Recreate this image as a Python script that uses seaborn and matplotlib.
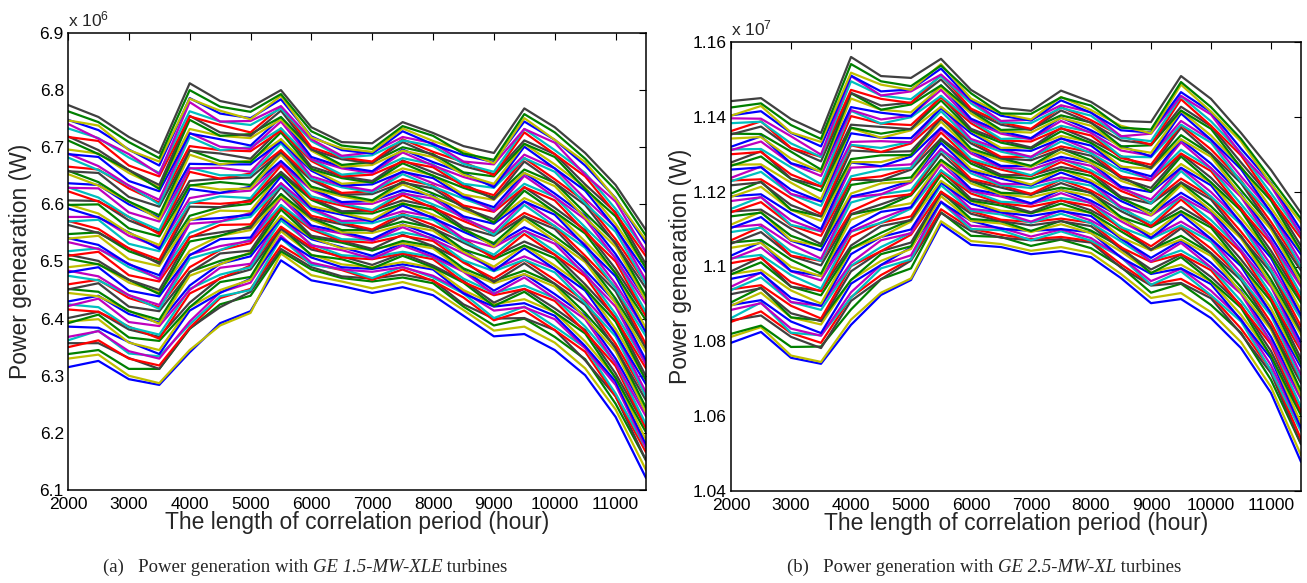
import matplotlib
matplotlib.use("Agg")
import matplotlib.pyplot as plt
import numpy as np
import pandas as pd
import seaborn as sns

# ---------------- data ----------------
hours = [2000, 2500, 3000, 3500, 4000, 4500, 5000, 5500, 6000, 6500,
         7000, 7500, 8000, 8500, 9000, 9500, 10000, 10500, 11000, 11500]

# (a) GE 1.5-MW-XLE, power in units of 1e3 W (axis shows x 10^6)
xle_15 = [
    [6315, 6326, 6294, 6284, 6341, 6392, 6413, 6502, 6467, 6457, 6445, 6455, 6441, 6405, 6369, 6373, 6345, 6301, 6228, 6121],
    [6330, 6337, 6300, 6287, 6345, 6388, 6410, 6514, 6476, 6465, 6453, 6464, 6450, 6415, 6379, 6386, 6358, 6313, 6241, 6135],
    [6338, 6345, 6312, 6312, 6382, 6425, 6440, 6518, 6486, 6471, 6465, 6472, 6462, 6421, 6388, 6400, 6368, 6329, 6251, 6152],
    [6350, 6362, 6330, 6318, 6384, 6436, 6452, 6528, 6496, 6485, 6468, 6486, 6466, 6437, 6397, 6414, 6380, 6342, 6264, 6166],
    [6368, 6378, 6343, 6330, 6395, 6446, 6463, 6545, 6498, 6486, 6482, 6490, 6475, 6447, 6414, 6420, 6399, 6348, 6284, 6174],
    [6395, 6399, 6358, 6345, 6420, 6450, 6468, 6553, 6512, 6495, 6490, 6499, 6489, 6450, 6425, 6434, 6411, 6360, 6297, 6188],
    [6401, 6412, 6381, 6368, 6428, 6471, 6486, 6557, 6521, 6509, 6494, 6514, 6493, 6466, 6428, 6452, 6418, 6380, 6304, 6209],
    [6425, 6420, 6385, 6372, 6452, 6477, 6490, 6572, 6530, 6511, 6508, 6517, 6508, 6470, 6445, 6458, 6436, 6386, 6323, 6215],
    [6430, 6440, 6408, 6393, 6458, 6496, 6509, 6576, 6539, 6525, 6510, 6532, 6512, 6485, 6449, 6478, 6443, 6405, 6330, 6237],
    [6452, 6447, 6413, 6398, 6482, 6501, 6514, 6591, 6542, 6533, 6519, 6536, 6527, 6488, 6466, 6484, 6461, 6410, 6350, 6244],
    [6460, 6468, 6436, 6420, 6490, 6520, 6532, 6595, 6556, 6536, 6533, 6545, 6536, 6498, 6470, 6503, 6468, 6430, 6356, 6265],
    [6484, 6474, 6441, 6424, 6512, 6527, 6536, 6611, 6559, 6549, 6536, 6560, 6539, 6514, 6487, 6509, 6487, 6435, 6376, 6271],
    [6490, 6496, 6463, 6446, 6519, 6545, 6555, 6614, 6573, 6551, 6550, 6564, 6554, 6517, 6491, 6528, 6493, 6455, 6382, 6293],
    [6512, 6501, 6468, 6450, 6543, 6551, 6559, 6630, 6576, 6565, 6553, 6579, 6558, 6533, 6508, 6535, 6512, 6460, 6402, 6299],
    [6518, 6523, 6490, 6471, 6550, 6570, 6578, 6633, 6590, 6568, 6567, 6582, 6573, 6536, 6512, 6554, 6518, 6480, 6408, 6321],
    [6541, 6529, 6495, 6476, 6573, 6576, 6582, 6649, 6593, 6582, 6570, 6598, 6576, 6552, 6529, 6560, 6537, 6485, 6429, 6327],
    [6548, 6551, 6518, 6499, 6580, 6595, 6601, 6653, 6608, 6585, 6584, 6601, 6591, 6556, 6532, 6579, 6544, 6505, 6435, 6349],
    [6571, 6557, 6523, 6503, 6603, 6601, 6605, 6668, 6610, 6598, 6587, 6616, 6594, 6571, 6549, 6585, 6562, 6510, 6455, 6355],
    [6578, 6578, 6545, 6525, 6611, 6620, 6624, 6672, 6625, 6601, 6601, 6619, 6610, 6575, 6553, 6605, 6569, 6530, 6461, 6377],
    [6600, 6584, 6550, 6529, 6634, 6626, 6628, 6687, 6627, 6614, 6604, 6635, 6613, 6590, 6570, 6611, 6587, 6535, 6481, 6383],
    [6607, 6606, 6572, 6551, 6641, 6645, 6647, 6691, 6642, 6617, 6618, 6638, 6628, 6594, 6574, 6630, 6594, 6555, 6487, 6405],
    [6630, 6612, 6578, 6555, 6664, 6651, 6651, 6707, 6645, 6630, 6621, 6653, 6631, 6610, 6591, 6636, 6613, 6560, 6507, 6411],
    [6637, 6634, 6600, 6577, 6671, 6670, 6670, 6710, 6659, 6633, 6635, 6657, 6646, 6613, 6595, 6655, 6619, 6580, 6513, 6433],
    [6659, 6639, 6605, 6581, 6695, 6676, 6674, 6726, 6662, 6646, 6638, 6672, 6650, 6629, 6612, 6661, 6638, 6585, 6533, 6439],
    [6666, 6661, 6628, 6603, 6702, 6695, 6693, 6729, 6676, 6649, 6652, 6675, 6665, 6632, 6616, 6681, 6644, 6605, 6539, 6461],
    [6689, 6667, 6633, 6608, 6725, 6701, 6697, 6745, 6679, 6663, 6655, 6691, 6668, 6648, 6633, 6687, 6663, 6610, 6560, 6467],
    [6696, 6689, 6655, 6630, 6732, 6720, 6716, 6749, 6694, 6666, 6669, 6694, 6683, 6652, 6636, 6706, 6670, 6630, 6566, 6489],
    [6719, 6695, 6660, 6634, 6755, 6726, 6720, 6764, 6696, 6679, 6672, 6709, 6686, 6667, 6653, 6712, 6688, 6635, 6586, 6495],
    [6733, 6716, 6682, 6655, 6763, 6745, 6739, 6768, 6711, 6682, 6686, 6712, 6702, 6671, 6657, 6732, 6695, 6655, 6592, 6517],
    [6748, 6730, 6696, 6668, 6786, 6759, 6751, 6784, 6719, 6695, 6689, 6728, 6705, 6686, 6674, 6745, 6713, 6668, 6611, 6531],
    [6763, 6744, 6709, 6681, 6800, 6771, 6762, 6793, 6728, 6703, 6697, 6737, 6720, 6689, 6678, 6758, 6726, 6680, 6625, 6545],
    [6774, 6753, 6718, 6690, 6812, 6781, 6770, 6800, 6735, 6709, 6707, 6744, 6725, 6702, 6690, 6768, 6735, 6690, 6634, 6555],
]
# further (a) curves lying between the ones above, same units
xle_15_more = [
    [6357, 6357, 6331, 6312, 6383, 6420, 6447, 6522, 6490, 6474, 6470, 6477, 6467, 6425, 6400, 6401, 6380, 6327, 6264, 6152],
    [6362, 6379, 6339, 6334, 6390, 6439, 6450, 6541, 6494, 6487, 6471, 6491, 6472, 6444, 6401, 6421, 6386, 6349, 6269, 6173],
    [6386, 6384, 6359, 6338, 6414, 6445, 6470, 6541, 6507, 6490, 6487, 6495, 6486, 6444, 6421, 6427, 6405, 6352, 6290, 6180],
    [6392, 6407, 6367, 6361, 6420, 6464, 6473, 6560, 6511, 6504, 6488, 6510, 6490, 6463, 6422, 6447, 6411, 6374, 6296, 6201],
    [6416, 6412, 6386, 6365, 6444, 6470, 6493, 6561, 6525, 6507, 6504, 6514, 6504, 6464, 6441, 6452, 6431, 6377, 6317, 6208],
    [6422, 6435, 6394, 6387, 6450, 6489, 6496, 6579, 6528, 6520, 6505, 6528, 6508, 6482, 6443, 6472, 6436, 6399, 6322, 6229],
    [6445, 6439, 6414, 6391, 6475, 6495, 6516, 6580, 6542, 6523, 6521, 6532, 6523, 6483, 6462, 6478, 6456, 6402, 6343, 6236],
    [6451, 6462, 6421, 6413, 6481, 6514, 6519, 6598, 6545, 6536, 6522, 6547, 6527, 6501, 6464, 6497, 6461, 6424, 6348, 6257],
    [6475, 6467, 6441, 6417, 6505, 6520, 6539, 6599, 6559, 6539, 6538, 6551, 6541, 6502, 6483, 6503, 6481, 6427, 6369, 6264],
    [6481, 6490, 6449, 6439, 6511, 6539, 6542, 6618, 6563, 6552, 6539, 6565, 6545, 6521, 6484, 6523, 6487, 6449, 6374, 6285],
    [6505, 6495, 6468, 6443, 6535, 6545, 6562, 6618, 6576, 6555, 6555, 6570, 6559, 6521, 6504, 6528, 6506, 6452, 6395, 6292],
    [6510, 6517, 6476, 6465, 6542, 6564, 6565, 6637, 6580, 6568, 6556, 6584, 6564, 6540, 6505, 6548, 6512, 6474, 6400, 6313],
    [6534, 6522, 6496, 6469, 6566, 6570, 6585, 6637, 6593, 6571, 6572, 6588, 6578, 6540, 6525, 6554, 6531, 6477, 6421, 6320],
    [6540, 6545, 6504, 6492, 6572, 6589, 6588, 6656, 6597, 6585, 6573, 6603, 6582, 6559, 6526, 6574, 6537, 6499, 6427, 6341],
    [6564, 6550, 6523, 6496, 6596, 6595, 6608, 6657, 6611, 6588, 6589, 6607, 6596, 6560, 6545, 6579, 6557, 6502, 6448, 6348],
    [6570, 6573, 6531, 6518, 6602, 6614, 6611, 6675, 6614, 6601, 6590, 6621, 6600, 6578, 6547, 6599, 6562, 6524, 6453, 6369],
    [6593, 6577, 6551, 6522, 6627, 6620, 6631, 6676, 6628, 6604, 6606, 6625, 6615, 6579, 6566, 6605, 6582, 6527, 6474, 6376],
    [6599, 6600, 6558, 6544, 6633, 6639, 6634, 6694, 6631, 6617, 6607, 6640, 6619, 6597, 6568, 6624, 6587, 6549, 6479, 6397],
    [6623, 6605, 6578, 6548, 6657, 6645, 6654, 6695, 6645, 6620, 6623, 6644, 6633, 6598, 6587, 6630, 6607, 6552, 6500, 6404],
    [6629, 6628, 6586, 6570, 6663, 6664, 6657, 6714, 6649, 6633, 6624, 6658, 6637, 6617, 6588, 6650, 6613, 6574, 6505, 6425],
    [6653, 6633, 6605, 6574, 6687, 6670, 6677, 6714, 6662, 6636, 6640, 6663, 6651, 6617, 6608, 6655, 6632, 6577, 6526, 6432],
    [6658, 6655, 6613, 6596, 6694, 6689, 6680, 6733, 6666, 6649, 6641, 6677, 6656, 6636, 6609, 6675, 6638, 6599, 6531, 6453],
    [6682, 6660, 6633, 6600, 6718, 6695, 6700, 6733, 6679, 6652, 6657, 6681, 6670, 6636, 6629, 6681, 6657, 6602, 6552, 6460],
    [6688, 6683, 6641, 6623, 6724, 6714, 6703, 6752, 6683, 6666, 6658, 6696, 6674, 6655, 6630, 6701, 6663, 6624, 6558, 6481],
    [6712, 6688, 6660, 6627, 6748, 6720, 6723, 6753, 6697, 6669, 6674, 6700, 6688, 6656, 6649, 6706, 6683, 6627, 6579, 6488],
    [6718, 6711, 6668, 6649, 6754, 6739, 6726, 6771, 6700, 6682, 6675, 6714, 6692, 6674, 6651, 6726, 6688, 6649, 6584, 6509],
    [6741, 6715, 6688, 6653, 6779, 6745, 6746, 6772, 6714, 6685, 6691, 6718, 6707, 6675, 6670, 6732, 6708, 6652, 6605, 6516],
    [6747, 6738, 6695, 6675, 6785, 6764, 6749, 6790, 6717, 6698, 6692, 6733, 6711, 6693, 6672, 6751, 6713, 6674, 6610, 6537],
]

# (b) GE 2.5-MW-XL, power in units of 1e4 W (axis shows x 10^7)
xl_25 = [
    [10796, 10825, 10756, 10740, 10844, 10924, 10964, 11114, 11058, 11052, 11033, 11041, 11025, 10969, 10902, 10913, 10862, 10782, 10662, 10478],
    [10812, 10838, 10762, 10745, 10858, 10930, 10968, 11121, 11068, 11060, 11042, 11052, 11036, 10980, 10916, 10929, 10878, 10798, 10678, 10496],
    [10820, 10842, 10785, 10786, 10885, 10966, 10995, 11145, 11082, 11079, 11055, 11072, 11049, 10999, 10930, 10954, 10897, 10823, 10697, 10525],
    [10852, 10880, 10822, 10796, 10918, 10977, 11020, 11153, 11101, 11085, 11073, 11079, 11068, 11006, 10952, 10967, 10922, 10834, 10723, 10539],
    [10884, 10902, 10834, 10815, 10931, 11004, 11030, 11174, 11109, 11103, 11080, 11099, 11076, 11026, 10961, 10994, 10935, 10860, 10736, 10568],
    [10895, 10930, 10864, 10845, 10964, 11015, 11047, 11188, 11122, 11115, 11092, 11113, 11089, 11040, 10984, 11005, 10960, 10871, 10762, 10582],
    [10926, 10942, 10875, 10854, 10987, 11041, 11064, 11196, 11141, 11121, 11110, 11121, 11108, 11047, 10992, 11032, 10972, 10897, 10774, 10611],
    [10937, 10971, 10905, 10884, 11002, 11052, 11090, 11217, 11149, 11139, 11117, 11141, 11116, 11067, 11015, 11043, 10997, 10908, 10800, 10625],
    [10967, 10983, 10916, 10895, 11033, 11079, 11099, 11224, 11168, 11145, 11135, 11148, 11135, 11074, 11023, 11070, 11010, 10934, 10812, 10654],
    [10979, 11011, 10946, 10923, 11048, 11090, 11125, 11245, 11176, 11163, 11142, 11168, 11143, 11094, 11046, 11082, 11035, 10945, 10839, 10668],
    [11009, 11023, 10958, 10934, 11079, 11117, 11134, 11253, 11195, 11169, 11160, 11176, 11162, 11101, 11054, 11109, 11048, 10971, 10850, 10697],
    [11020, 11051, 10987, 10963, 11094, 11128, 11159, 11273, 11202, 11187, 11166, 11196, 11169, 11121, 11078, 11120, 11073, 10982, 10877, 10711],
    [11050, 11063, 10999, 10974, 11125, 11155, 11169, 11281, 11222, 11193, 11185, 11204, 11189, 11128, 11085, 11147, 11086, 11008, 10888, 10740],
    [11061, 11092, 11028, 11003, 11140, 11166, 11194, 11302, 11229, 11211, 11191, 11223, 11196, 11148, 11109, 11159, 11111, 11019, 10916, 10754],
    [11092, 11104, 11040, 11015, 11171, 11193, 11204, 11310, 11249, 11217, 11210, 11231, 11216, 11155, 11116, 11186, 11124, 11045, 10927, 10783],
    [11103, 11132, 11069, 11043, 11187, 11204, 11229, 11330, 11256, 11235, 11216, 11251, 11223, 11175, 11140, 11197, 11149, 11056, 10954, 10797],
    [11134, 11144, 11082, 11054, 11218, 11230, 11238, 11338, 11275, 11241, 11234, 11259, 11242, 11182, 11148, 11224, 11161, 11082, 10965, 10826],
    [11145, 11172, 11110, 11082, 11233, 11241, 11264, 11358, 11283, 11259, 11241, 11279, 11250, 11202, 11171, 11235, 11186, 11093, 10992, 10840],
    [11175, 11185, 11123, 11094, 11264, 11268, 11273, 11367, 11302, 11265, 11259, 11286, 11269, 11209, 11179, 11263, 11199, 11119, 11004, 10869],
    [11186, 11213, 11151, 11122, 11279, 11279, 11299, 11387, 11310, 11283, 11266, 11306, 11277, 11229, 11202, 11274, 11224, 11130, 11031, 10883],
    [11217, 11225, 11164, 11134, 11310, 11306, 11308, 11395, 11329, 11289, 11284, 11314, 11296, 11236, 11210, 11301, 11237, 11156, 11042, 10912],
    [11228, 11253, 11193, 11162, 11325, 11317, 11333, 11415, 11336, 11307, 11290, 11334, 11303, 11256, 11234, 11312, 11262, 11167, 11069, 10926],
    [11259, 11265, 11205, 11174, 11356, 11344, 11343, 11423, 11356, 11313, 11309, 11342, 11323, 11263, 11241, 11339, 11275, 11193, 11080, 10955],
    [11269, 11294, 11234, 11202, 11371, 11355, 11368, 11444, 11363, 11331, 11315, 11361, 11330, 11283, 11265, 11351, 11300, 11204, 11108, 10969],
    [11300, 11306, 11246, 11214, 11402, 11382, 11378, 11452, 11383, 11337, 11334, 11369, 11350, 11290, 11272, 11378, 11313, 11230, 11119, 10998],
    [11311, 11334, 11275, 11242, 11418, 11393, 11403, 11472, 11390, 11355, 11340, 11389, 11357, 11310, 11296, 11389, 11338, 11241, 11146, 11012],
    [11342, 11346, 11288, 11253, 11449, 11419, 11412, 11480, 11409, 11361, 11358, 11397, 11376, 11317, 11304, 11416, 11350, 11267, 11157, 11041],
    [11353, 11374, 11316, 11281, 11464, 11430, 11438, 11500, 11417, 11379, 11365, 11417, 11384, 11337, 11327, 11427, 11375, 11278, 11184, 11055],
    [11383, 11387, 11329, 11293, 11495, 11457, 11447, 11509, 11436, 11385, 11383, 11424, 11403, 11344, 11335, 11455, 11388, 11304, 11196, 11084],
    [11404, 11415, 11357, 11321, 11510, 11468, 11473, 11529, 11444, 11403, 11390, 11444, 11411, 11364, 11358, 11466, 11413, 11315, 11223, 11097],
    [11425, 11436, 11378, 11341, 11541, 11495, 11482, 11537, 11463, 11409, 11408, 11452, 11430, 11371, 11366, 11493, 11426, 11341, 11234, 11127],
    [11442, 11450, 11394, 11357, 11560, 11509, 11504, 11555, 11472, 11424, 11416, 11470, 11440, 11389, 11386, 11509, 11448, 11357, 11258, 11143],
]
# further (b) curves lying between the ones above, same units
xl_25_more = [
    [10856, 10869, 10812, 10782, 10908, 10966, 11016, 11143, 11095, 11077, 11070, 11073, 11064, 10997, 10949, 10956, 10915, 10820, 10715, 10526],
    [10862, 10904, 10823, 10816, 10917, 10995, 11019, 11172, 11100, 11097, 11070, 11094, 11069, 11025, 10951, 10987, 10923, 10853, 10722, 10559],
    [10897, 10910, 10853, 10822, 10954, 11004, 11051, 11172, 11122, 11101, 11095, 11100, 11091, 11024, 10980, 10995, 10953, 10857, 10754, 10569],
    [10904, 10944, 10864, 10856, 10964, 11033, 11054, 11200, 11127, 11121, 11095, 11122, 11096, 11052, 10982, 11025, 10961, 10890, 10760, 10602],
    [10939, 10950, 10895, 10861, 11001, 11041, 11085, 11200, 11148, 11125, 11119, 11128, 11117, 11051, 11012, 11033, 10990, 10894, 10792, 10612],
    [10946, 10984, 10905, 10895, 11010, 11070, 11089, 11228, 11154, 11145, 11120, 11150, 11123, 11079, 11013, 11063, 10998, 10927, 10798, 10645],
    [10980, 10991, 10936, 10901, 11047, 11079, 11120, 11229, 11175, 11149, 11144, 11155, 11144, 11078, 11043, 11072, 11028, 10931, 10831, 10655],
    [10987, 11025, 10946, 10935, 11056, 11108, 11124, 11257, 11181, 11169, 11145, 11177, 11150, 11106, 11044, 11102, 11036, 10964, 10837, 10688],
    [11022, 11031, 10977, 10941, 11093, 11117, 11155, 11257, 11202, 11173, 11169, 11183, 11171, 11105, 11074, 11110, 11066, 10968, 10869, 10698],
    [11029, 11065, 10988, 10975, 11102, 11146, 11158, 11285, 11207, 11193, 11169, 11205, 11176, 11133, 11076, 11140, 11074, 11001, 10875, 10731],
    [11064, 11071, 11018, 10981, 11139, 11155, 11190, 11285, 11229, 11197, 11194, 11211, 11198, 11132, 11105, 11148, 11104, 11005, 10907, 10741],
    [11070, 11106, 11029, 11015, 11148, 11184, 11193, 11314, 11234, 11217, 11194, 11232, 11203, 11160, 11107, 11179, 11112, 11038, 10914, 10774],
    [11105, 11112, 11059, 11021, 11185, 11193, 11225, 11314, 11256, 11221, 11219, 11238, 11225, 11159, 11136, 11187, 11142, 11042, 10946, 10784],
    [11112, 11146, 11070, 11055, 11195, 11222, 11228, 11342, 11261, 11241, 11219, 11260, 11230, 11187, 11138, 11217, 11150, 11075, 10952, 10817],
    [11147, 11152, 11101, 11060, 11232, 11230, 11259, 11342, 11282, 11245, 11243, 11266, 11251, 11186, 11168, 11225, 11179, 11079, 10984, 10827],
    [11154, 11186, 11111, 11094, 11241, 11259, 11263, 11370, 11288, 11265, 11244, 11288, 11257, 11214, 11169, 11255, 11187, 11112, 10990, 10860],
    [11188, 11193, 11142, 11100, 11278, 11268, 11294, 11371, 11309, 11269, 11268, 11293, 11278, 11213, 11199, 11264, 11217, 11116, 11023, 10870],
    [11195, 11227, 11152, 11134, 11287, 11297, 11298, 11399, 11315, 11289, 11269, 11315, 11284, 11241, 11200, 11294, 11225, 11149, 11029, 10903],
    [11230, 11233, 11183, 11140, 11324, 11306, 11329, 11399, 11336, 11293, 11293, 11321, 11305, 11240, 11230, 11302, 11255, 11153, 11061, 10913],
    [11237, 11267, 11194, 11174, 11333, 11335, 11332, 11427, 11341, 11313, 11293, 11343, 11310, 11268, 11232, 11332, 11263, 11186, 11067, 10946],
    [11272, 11273, 11224, 11180, 11370, 11344, 11364, 11427, 11363, 11317, 11318, 11349, 11332, 11267, 11261, 11340, 11293, 11190, 11099, 10956],
    [11278, 11308, 11235, 11214, 11379, 11373, 11367, 11456, 11368, 11337, 11318, 11370, 11337, 11295, 11263, 11371, 11301, 11223, 11106, 10989],
    [11313, 11314, 11265, 11220, 11416, 11382, 11399, 11456, 11390, 11341, 11343, 11376, 11359, 11294, 11292, 11379, 11331, 11227, 11138, 10999],
    [11320, 11348, 11276, 11254, 11426, 11411, 11402, 11484, 11395, 11361, 11343, 11398, 11364, 11322, 11294, 11409, 11339, 11260, 11144, 11032],
    [11355, 11354, 11307, 11259, 11463, 11419, 11433, 11484, 11416, 11365, 11367, 11404, 11385, 11321, 11324, 11417, 11368, 11264, 11176, 11042],
    [11362, 11388, 11317, 11293, 11472, 11448, 11437, 11512, 11422, 11385, 11368, 11426, 11391, 11349, 11325, 11447, 11376, 11297, 11182, 11075],
    [11396, 11395, 11348, 11299, 11509, 11457, 11468, 11513, 11443, 11389, 11392, 11431, 11412, 11348, 11355, 11456, 11406, 11301, 11215, 11085],
    [11403, 11429, 11358, 11333, 11518, 11486, 11472, 11541, 11449, 11409, 11393, 11453, 11418, 11376, 11356, 11486, 11414, 11334, 11221, 11117],
]

x_ticks = [2000, 3000, 4000, 5000, 6000, 7000, 8000, 9000, 10000, 11000]
yticks_a = [6.1, 6.2, 6.3, 6.4, 6.5, 6.6, 6.7, 6.8, 6.9]
yticks_b = [1.04, 1.06, 1.08, 1.10, 1.12, 1.14, 1.16]
yticklabels_b = ["1.04", "1.06", "1.08", "1.1", "1.12", "1.14", "1.16"]

# MATLAB-like line colour order
matlab_colors = ["#0000ff", "#bfbf00", "#008000", "#404040",
                 "#ff0000", "#00bfbf", "#bf00bf"]

# ---------------- style ----------------
sns.set_theme(style="white")
plt.rcParams["font.family"] = ["Liberation Sans", "DejaVu Sans"]
plt.rcParams["mathtext.fontset"] = "custom"
plt.rcParams["mathtext.rm"] = "Liberation Sans"
plt.rcParams["mathtext.default"] = "regular"

fig = plt.figure(figsize=(13.07, 5.83), dpi=100)
ax_a = fig.add_axes([68 / 1307, 1 - 490 / 583, 578 / 1307, 457 / 583])
ax_b = fig.add_axes([731 / 1307, 1 - 491 / 583, 570 / 1307, 449 / 583])


def to_long(lines, scale):
    rows = []
    for i, vals in enumerate(lines):
        for h, v in zip(hours, vals):
            rows.append({"hour": h, "power": v / scale, "line": f"L{i:03d}"})
    return pd.DataFrame(rows)


def draw(ax, main_lines, extra_lines, scale, ylim, yticks, yticklabels,
         exp_text):
    # interleave the extra curves with the main ones for a mixed draw order
    lines = list(main_lines[:3])
    for i, extra in enumerate(extra_lines):
        lines.append(extra)
        if 3 + i < len(main_lines):
            lines.append(main_lines[3 + i])
    lines.extend(main_lines[3 + len(extra_lines):])
    df = to_long(lines, scale)
    names = sorted(df["line"].unique())
    pal = {n: matlab_colors[i % len(matlab_colors)] for i, n in enumerate(names)}
    sns.lineplot(data=df, x="hour", y="power", hue="line", palette=pal,
                 estimator=None, sort=False, legend=False, linewidth=1.6,
                 ax=ax)
    ax.set_xlim(2000, 11500)
    ax.set_ylim(*ylim)
    ax.set_xticks(x_ticks)
    ax.set_xticklabels([str(t) for t in x_ticks])
    ax.set_yticks(yticks)
    ax.set_yticklabels(yticklabels)
    ax.tick_params(direction="in", top=True, right=True, length=5, width=0.8,
                   labelsize=12.5, colors="black", pad=3)
    ax.tick_params(axis="x", pad=5)
    for sp in ax.spines.values():
        sp.set_color("black")
        sp.set_linewidth(1.1)
    ax.set_xlabel("The length of correlation period (hour)", fontsize=16.5)
    ax.set_ylabel("Power genearation (W)", fontsize=16.5)
    ax.text(0.0, 1.008, exp_text, transform=ax.transAxes, ha="left",
            va="bottom", fontsize=12.5)


draw(ax_a, xle_15, xle_15_more, 1000.0, (6.1, 6.9), yticks_a,
     [f"{t:.1f}" for t in yticks_a], "x 10$^{6}$")
draw(ax_b, xl_25, xl_25_more, 10000.0, (1.04, 1.16), yticks_b, yticklabels_b,
     "x 10$^{7}$")

ax_a.xaxis.set_label_coords(0.5, -0.045)
ax_b.xaxis.set_label_coords(0.5, -0.047)
ax_a.yaxis.set_label_coords(-0.062, 0.5)
ax_b.yaxis.set_label_coords(-0.068, 0.5)

# captions with italic turbine names
fig.canvas.draw()
renderer = fig.canvas.get_renderer()


def caption(x_center_px, y_px, pieces):
    fs = 13.5
    texts = []
    for s, style in pieces:
        t = fig.text(0, 1 - y_px / 583, s, fontsize=fs, style=style,
                     family=["Liberation Serif", "DejaVu Serif"],
                     ha="left", va="center")
        texts.append(t)
    widths = [t.get_window_extent(renderer).width for t in texts]
    total = sum(widths)
    x = x_center_px - total / 2
    for t, w in zip(texts, widths):
        t.set_x(x / 1307)
        x += w


caption(305, 567, [("(a)   Power generation with ", "normal"),
                   ("GE 1.5-MW-XLE", "italic"),
                   (" turbines", "normal")])
caption(984, 567, [("(b)   Power generation with ", "normal"),
                   ("GE 2.5-MW-XL", "italic"),
                   (" turbines", "normal")])

fig.savefig("out.png", dpi=100)
